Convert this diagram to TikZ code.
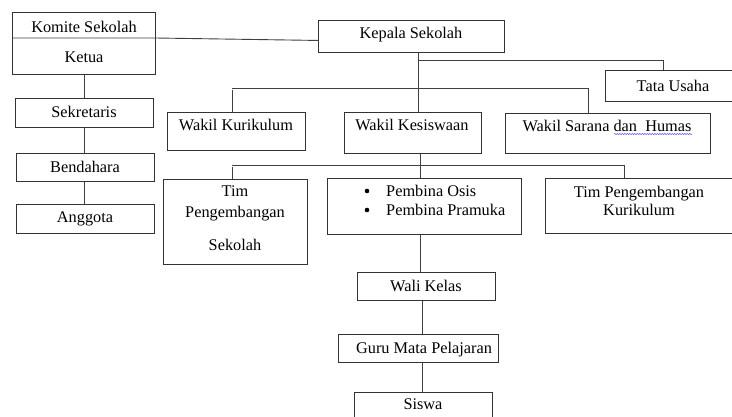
\documentclass[tikz,border=0pt]{standalone}
\usepackage{fontspec}
\setmainfont{Liberation Serif}
\usetikzlibrary{decorations.pathmorphing}
\begin{document}
\begin{tikzpicture}[x=1pt,y=-1pt,
  box/.style={draw=black!80, line width=0.9pt, rectangle, inner sep=0pt, anchor=north west},
  lbl/.style={inner sep=0pt, anchor=base, font=\fontsize{16.3}{19}\selectfont},
  bul/.style={circle, fill=black, inner sep=0pt, minimum size=4.6pt},
  conn/.style={draw=black!75, line width=0.9pt}]
\useasboundingbox (0,0) rectangle (732,416);
\clip (0,0) rectangle (732,416);
\fill[white] (0,0) rectangle (732,416);

% boxes
\node[box, minimum width=143pt, minimum height=62pt] (kom) at (12,12) {};
\node[box, minimum width=138pt, minimum height=29pt] (sek) at (15,98) {};
\node[box, minimum width=138pt, minimum height=28pt] (ben) at (16,153) {};
\node[box, minimum width=138pt, minimum height=29pt] (ang) at (16,204) {};
\node[box, minimum width=186pt, minimum height=32pt] (kep) at (318,20) {};
\node[box, minimum width=136pt, minimum height=31pt] (tu) at (605,70) {};
\node[box, minimum width=138pt, minimum height=38pt] (wk) at (167,112) {};
\node[box, minimum width=137pt, minimum height=41pt] (wks) at (344,112) {};
\node[box, minimum width=205pt, minimum height=40pt] (ws) at (505,113) {};
\node[box, minimum width=144pt, minimum height=85pt] (tps) at (163,179) {};
\node[box, minimum width=194pt, minimum height=56pt] (pem) at (327,178) {};
\node[box, minimum width=189pt, minimum height=55pt] (tpk) at (545,178) {};
\node[box, minimum width=138pt, minimum height=28pt] (wal) at (357,272) {};
\node[box, minimum width=160pt, minimum height=28pt] (guru) at (338,334) {};
\node[box, minimum width=138pt, minimum height=38pt] (sis) at (354,392) {};

% texts
\node[lbl] (tkom) at (84,32) {Komite Sekolah};
\node[lbl] (tket) at (84,62) {Ketua};
\node[lbl] (tsek) at (84,117) {Sekretaris};
\node[lbl] (tben) at (85,172) {Bendahara};
\node[lbl] (tang) at (85,222) {Anggota};
\node[lbl] (tkep) at (411,38) {Kepala Sekolah};
\node[lbl] (ttu) at (673,91) {Tata Usaha};
\node[lbl] (twk) at (236,130) {Wakil Kurikulum};
\node[lbl] (twks) at (412,130) {Wakil Kesiswaan};
\node[lbl] (tws) at (607,131) {Wakil Sarana dan\ \ Humas};
\node[lbl] (ttps1) at (235,196) {Tim};
\node[lbl] (ttps2) at (235,217) {Pengembangan};
\node[lbl] (ttps3) at (235,250) {Sekolah};
\node[bul] (bul1) at (367,191) {};
\node[lbl, anchor=base west] (tpem1) at (386,196) {Pembina Osis};
\node[bul] (bul2) at (367,210) {};
\node[lbl, anchor=base west] (tpem2) at (386,215) {Pembina Pramuka};
\node[lbl] (ttpk1) at (639,197) {Tim Pengembangan};
\node[lbl] (ttpk2) at (639,215) {Kurikulum};
\node[lbl] (twal) at (426,291) {Wali Kelas};
\node[lbl] (tguru) at (424,353) {Guru Mata Pelajaran};
\node[lbl] (tsis) at (423,409) {Siswa};

% spell-check underline
\draw[blue!70, line width=0.5pt, decorate, decoration={snake, amplitude=0.6pt, segment length=2.5pt}]
  (614,134) -- (692,134);

% helper coordinates
\coordinate (kdiv) at (12,38);
\coordinate (trunk) at (418,0);
\coordinate (tb) at (418,60);
\coordinate (tx) at (663,0);
\coordinate (wb1) at (232,88);
\coordinate (wb2) at (588,88);
\coordinate (sb1) at (232,165);
\coordinate (sb2) at (624,165);
\coordinate (mid) at (420,0);
\coordinate (mid2) at (422,0);
\coordinate (lcol) at (84,0);

% connectors
\draw[conn] (kdiv) -- (kom.east |- kdiv) -- ([yshift=-4pt]kep.west);
\draw[conn] (kom.south -| lcol) -- (sek.north -| lcol);
\draw[conn] (sek.south -| lcol) -- (ben.north -| lcol);
\draw[conn] (ben.south -| lcol) -- (ang.north -| lcol);
\draw[conn] (kep.south -| trunk) -- (wks.north -| trunk);
\draw[conn] (tb) -- (tb -| tx) -- (tu.north -| tx);
\draw[conn] (wk.north -| wb1) -- ([yshift=-2pt]wb1) (wb1) -- (wb2) -- (ws.north -| wb2);
\draw[conn] (tps.north -| sb1) -- ([yshift=-2pt]sb1) (sb1) -- (sb2) -- (tpk.north -| sb2);
\draw[conn] (wks.south -| mid) -- (pem.north -| mid);
\draw[conn] (pem.south -| mid) -- (wal.north -| mid);
\draw[conn] (wal.south -| mid2) -- (guru.north -| mid2);
\draw[conn] (guru.south -| mid2) -- (sis.north -| mid2);
\end{tikzpicture}
\end{document}
